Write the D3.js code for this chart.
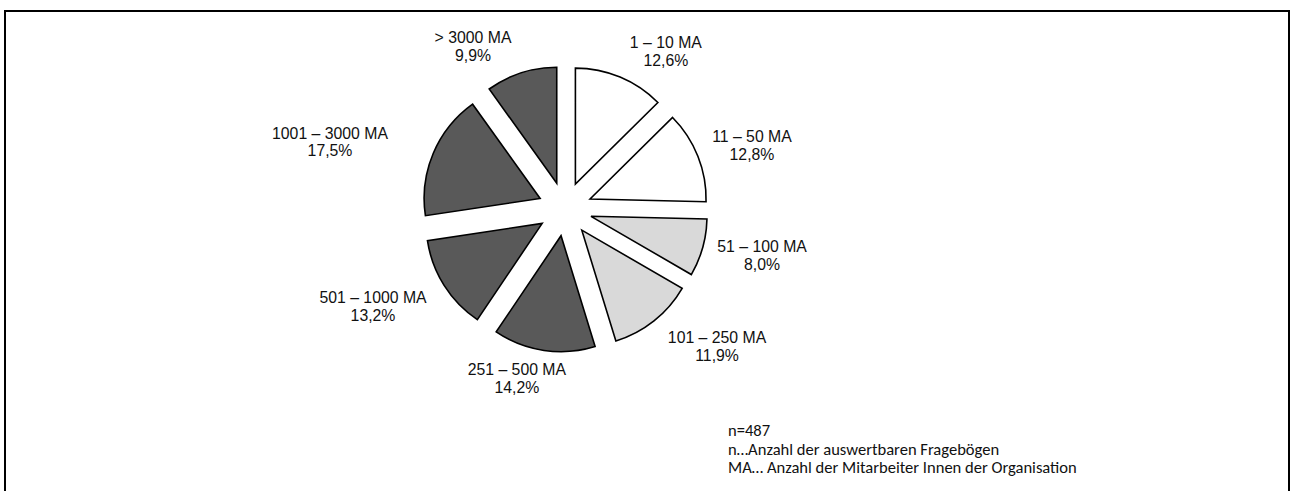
<!DOCTYPE html>
<html><head><meta charset="utf-8">
<script src="https://cdn.jsdelivr.net/npm/d3@7"></script>
<style>html,body{margin:0;padding:0;background:#fff;}svg{display:block;}</style>
</head><body>
<svg id="c" width="1290" height="491"></svg>
<script>
// ---- data ----
const categories = ["1 – 10 MA","11 – 50 MA","51 – 100 MA","101 – 250 MA","251 – 500 MA","501 – 1000 MA","1001 – 3000 MA","> 3000 MA"];
const shares = [12.6, 12.8, 8.0, 11.9, 14.2, 13.2, 17.5, 9.9];
const shareLabels = ["12,6%","12,8%","8,0%","11,9%","14,2%","13,2%","17,5%","9,9%"];
const groups = ["small","small","mid","mid","large","large","large","large"];
const notes = ["n=487","n…Anzahl der auswertbaren Fragebögen","MA… Anzahl der Mitarbeiter Innen der Organisation"];

// ---- layout ----
const W = 1290, H = 491;
const cx = 565, cy = 209, R = 116, explode = 27;
const labelAngle = [32.5, 71.1, 103.1, 132.0, 195.9, 243.2, 286.1, 330.6];
const labelRadius = [187.7, 197.6, 202.3, 204.6, 175.7, 215.1, 244.6, 187.4];
const color = d3.scaleOrdinal().domain(["small","mid","large"]).range(["#ffffff","#d9d9d9","#595959"]);

const svg = d3.select("#c");
svg.append("rect").attr("x",5).attr("y",11).attr("width",1284).attr("height",520)
  .attr("fill","#fff").attr("stroke","#000").attr("stroke-width",2);

const pie = d3.pie().sort(null).value(d => d)(shares);
const arc = d3.arc().innerRadius(0).outerRadius(R);
const g = svg.append("g").attr("transform",`translate(${cx},${cy})`);
g.selectAll("path").data(pie).join("path")
  .attr("d", arc)
  .attr("transform", d => {
    const a = (d.startAngle + d.endAngle)/2;
    return `translate(${explode*Math.sin(a)},${-explode*Math.cos(a)})`;
  })
  .attr("fill", (d,i) => color(groups[i]))
  .attr("stroke","#000").attr("stroke-width",1.6).attr("stroke-linejoin","miter");

const lab = g.selectAll("g.lab").data(categories).join("g").attr("class","lab")
  .attr("transform",(d,i)=>{
    const a = labelAngle[i]*Math.PI/180;
    return `translate(${labelRadius[i]*Math.sin(a)},${-labelRadius[i]*Math.cos(a)})`;
  });
lab.append("text").attr("text-anchor","middle").attr("y",-2.5)
  .style("font-family","'Liberation Sans',Arial,sans-serif").style("font-size","15.8px").attr("fill","#111")
  .text(d=>d);
lab.append("text").attr("text-anchor","middle").attr("y",15)
  .style("font-family","'Liberation Sans',Arial,sans-serif").style("font-size","15.8px").attr("fill","#111")
  .text((d,i)=>shareLabels[i]);

const noteBase = [436, 455, 473];
const nt = svg.selectAll("text.note").data(notes).join("text").attr("class","note")
  .attr("x",728).attr("y",(d,i)=>noteBase[i])
  .style("font-family","Carlito,Lato,'Open Sans',sans-serif").style("font-size","13px").attr("fill","#111")
  .text(d=>d);
// fit font size to reference width of the longest line
const longest = nt.filter((d,i)=>i===2).node();
const w = longest.getComputedTextLength();
const fs = 13*349/w;
nt.style("font-size", fs+"px");
</script>
</body></html>
